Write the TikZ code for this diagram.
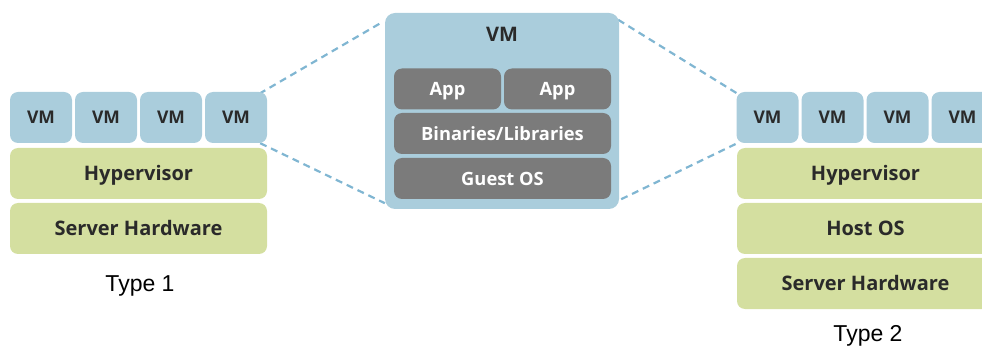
\documentclass[tikz,border=0pt]{standalone}
\usepackage{fontspec}
\setmainfont{Liberation Sans}
\newfontfamily\boxfont{Open Sans}
\usetikzlibrary{backgrounds}
\definecolor{vmblue}{HTML}{AACDDC}
\definecolor{hvgreen}{HTML}{D4DFA0}
\definecolor{appgray}{HTML}{7B7B7B}
\definecolor{dashblue}{HTML}{80B6D2}
\definecolor{txt}{HTML}{2A2A2A}
\begin{document}
\begin{tikzpicture}[x=1pt,y=-1pt,
  box/.style={rounded corners=8pt, inner sep=0pt, text=txt,
    text height=14.3pt, text depth=0pt,
    font=\boxfont\bfseries\fontsize{20}{20}\selectfont},
  vm/.style={box, fill=vmblue, minimum width=62pt, minimum height=51pt,
    text height=12.5pt,
    font=\boxfont\bfseries\fontsize{17.5}{17.5}\selectfont},
  layer/.style={box, fill=hvgreen, minimum width=257pt, minimum height=51pt},
  graybox/.style={box, fill=appgray, text=white, minimum height=41pt,
    text height=13.1pt,
    font=\boxfont\bfseries\fontsize{18.3}{18.3}\selectfont},
  link/.style={draw=dashblue, dash pattern=on 7pt off 5pt, line width=2.2pt},
  typelabel/.style={inner sep=0pt, text height=16.5pt, text depth=0pt,
    font=\fontsize{23}{23}\selectfont, text=black}
]
\useasboundingbox (0,0) rectangle (982,347);
\clip (0,0) rectangle (982,347);
% Type 1
\node[vm] (l1) at (41,117.5) {VM};
\node[vm] (l2) at (106,117.5) {VM};
\node[vm] (l3) at (171,117.5) {VM};
\node[vm] (l4) at (236,117.5) {VM};
\node[layer] (lhyp) at (138.5,173.5) {Hypervisor};
\node[layer] (lhw) at (138.5,228.5) {Server Hardware};
\node[typelabel] (t1) at (140,283) {Type 1};
% central VM
\node[box, fill=vmblue, rounded corners=10pt, minimum width=234pt, minimum height=196pt] (big) at (502,111) {};
\node[box] (bigl) at (502,34) {VM};
\node[graybox, minimum width=107pt] (app1) at (447.5,89) {App};
\node[graybox, minimum width=107pt] (app2) at (557.5,89) {App};
\node[graybox, minimum width=217pt] (bins) at (502.5,133.5) {Binaries/Libraries};
\node[graybox, minimum width=217pt] (gos) at (502.5,178.5) {Guest OS};
% Type 2
\node[vm] (r1) at (767.5,117.5) {VM};
\node[vm] (r2) at (832.5,117.5) {VM};
\node[vm] (r3) at (897.5,117.5) {VM};
\node[vm] (r4) at (962.5,117.5) {VM};
\node[layer] (rhyp) at (865.5,173.5) {Hypervisor};
\node[layer] (ros) at (865.5,228.5) {Host OS};
\node[layer] (rhw) at (865.5,283.5) {Server Hardware};
\node[typelabel] (t2) at (868,333) {Type 2};
% connectors
\begin{pgfonlayer}{background}
\coordinate (a1) at ([shift={(-8,2)}]l4.north east);
\coordinate (a2) at ([shift={(-2,9)}]big.north west);
\coordinate (b1) at ([shift={(-7,0)}]l4.south east);
\coordinate (b2) at ([shift={(0,-6)}]big.south west);
\coordinate (c1) at ([shift={(-1,7)}]big.north east);
\coordinate (c2) at ([shift={(3,3)}]r1.north west);
\coordinate (d1) at ([shift={(2,-10)}]big.south east);
\coordinate (d2) at ([shift={(1,0)}]r1.south west);
\draw[link] (a1) -- (a2);
\draw[link] (b1) -- (b2);
\draw[link] (c1) -- (c2);
\draw[link] (d1) -- (d2);
\end{pgfonlayer}
\end{tikzpicture}
\end{document}
